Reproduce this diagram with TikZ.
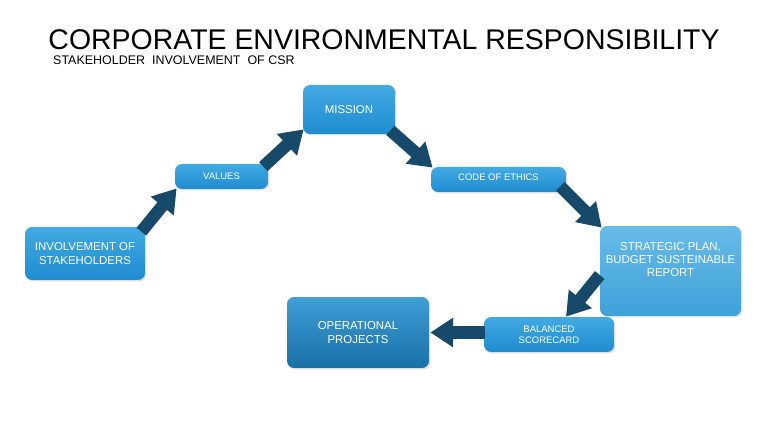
\documentclass[tikz,border=0pt]{standalone}
\usepackage{fontspec}
\setmainfont{Liberation Sans}
\usetikzlibrary{arrows.meta,shadows}
\definecolor{csrblue}{HTML}{1F8CD0}
\definecolor{csrlight}{HTML}{42AAE3}
\definecolor{csrarrow}{HTML}{17496A}

\begin{document}
\begin{tikzpicture}[
    x=0.02cm, y=-0.02cm,
    box/.style={rounded corners=4pt, top color=csrlight, bottom color=csrblue,
      draw=none, text=white, align=center, inner sep=1pt,
      drop shadow={opacity=0.25, shadow xshift=0.8pt, shadow yshift=-0.8pt},
      font=\fontsize{6.5}{7.6}\selectfont},
    small/.style={font=\fontsize{5.4}{6.4}\selectfont},
    flow/.style={->, csrarrow, line width=7pt},
    >={Triangle[length=13pt,width=16pt]}]

  \useasboundingbox[fill=white] (0,0) rectangle (760,428);

  % headings
  \node[font=\fontsize{16.2}{19}\selectfont] (title) at (384,40)
       {CORPORATE ENVIRONMENTAL RESPONSIBILITY};
  \node[anchor=west, font=\fontsize{7.1}{8.2}\selectfont] (sub) at (47,60)
       {STAKEHOLDER\ \ INVOLVEMENT\ \ OF CSR};

  % boxes
  \node[box, minimum width=2.40cm, minimum height=1.06cm] (inv) at (85,253.5)
       {INVOLVEMENT OF\\STAKEHOLDERS};
  \node[box, small, minimum width=1.86cm, minimum height=0.50cm] (val) at (221.5,176.5)
       {VALUES};
  \node[box, minimum width=1.84cm, minimum height=0.98cm] (mis) at (349,109.5)
       {MISSION};
  \node[box, small, minimum width=2.70cm, minimum height=0.50cm] (code) at (498.5,179.5)
       {CODE OF ETHICS\rule[-3pt]{0pt}{0pt}};
  \node[box, top color=csrlight!80!white, bottom color=csrlight!95!black,
        minimum width=2.82cm, minimum height=1.80cm] (str) at (670.5,271)
       {STRATEGIC PLAN,\\BUDGET SUSTEINABLE\\REPORT\rule[-13pt]{0pt}{0pt}};
  \node[box, small, minimum width=2.60cm, minimum height=0.70cm] (bal) at (549,334.5)
       {BALANCED\\SCORECARD};
  \node[box, top color=csrblue!85!white, bottom color=csrblue!80!black,
        minimum width=2.84cm, minimum height=1.42cm] (ops) at (358,332.5)
       {OPERATIONAL\\PROJECTS};

  % arrows
  \draw[flow] ([shift={(-4,5)}]inv.north east) -- ([shift={(2,-1)}]val.south west);
  \draw[flow] ([shift={(-5,3)}]val.north east) -- ([shift={(1,-5)}]mis.south west);
  \draw[flow] ([shift={(-5,-4)}]mis.south east) -- ([shift={(2,1)}]code.north west);
  \draw[flow] ([shift={(-6,-6)}]code.south east) -- ([shift={(2,2)}]str.north west);
  \draw[flow] ([shift={(0,4)}]str.west) -- ([shift={(17,0)}]bal.north);
  \draw[flow] ([shift={(1,-2)}]bal.west) -- ([shift={(1,0)}]ops.east);
\end{tikzpicture}
\end{document}
